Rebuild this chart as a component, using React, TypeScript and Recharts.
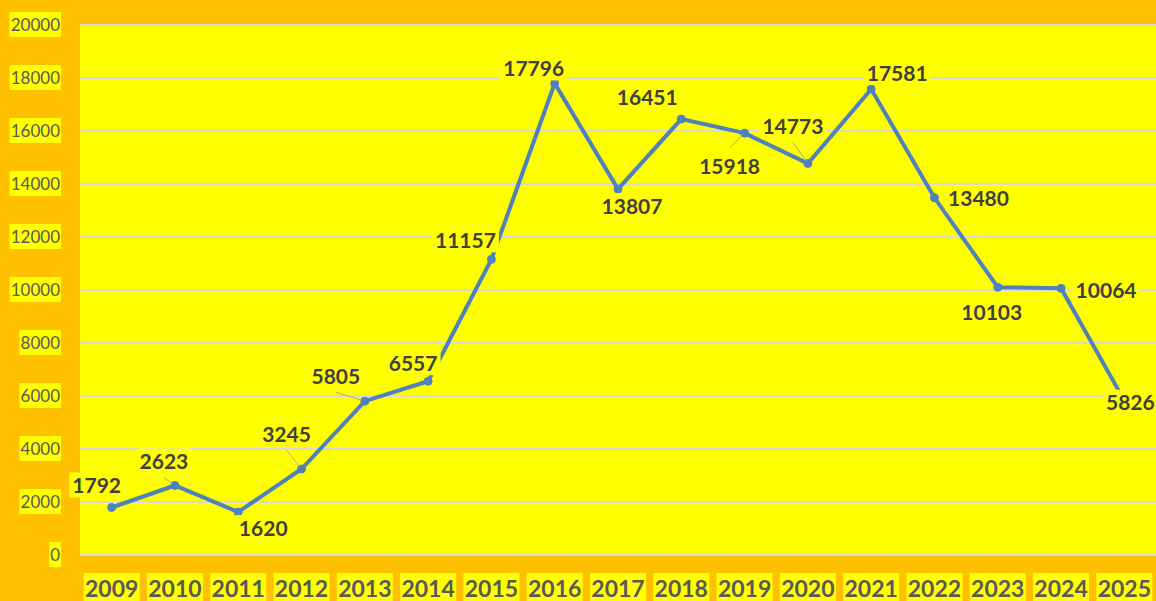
import { CartesianGrid, Line, LineChart, XAxis, YAxis } from "recharts";

const years = [
  "2009", "2010", "2011", "2012", "2013", "2014", "2015", "2016", "2017",
  "2018", "2019", "2020", "2021", "2022", "2023", "2024", "2025",
];

const totals = [
  1792, 2623, 1620, 3245, 5805, 6557, 11157, 17796, 13807, 16451, 15918,
  14773, 17581, 13480, 10103, 10064, 5826,
];

const yTicks = [0, 2000, 4000, 6000, 8000, 10000, 12000, 14000, 16000, 18000, 20000];

// where each data label sits relative to its point (manual placement, like in the sheet)
const labelOffsets: [number, number][] = [
  [-15, -22], [-11, -24], [25, 16], [-15, -35], [-29, -25], [-15, -18],
  [-26, -19], [-21, -15], [14, 17], [-34, -22], [-15, 33], [-15, -37],
  [26, -16], [44, 1], [-6, 25], [45, 2], [6, 2],
];

// labels that got pulled away from their point and show a leader line
const leaderLines = [1, 3, 4, 10, 11];

const FONT = "Lato, 'Open Sans', sans-serif";
const ORANGE = "#FFC000";
const YELLOW = "#FFFF00";

const data = years.map((year, i) => ({ year, total: totals[i] }));

const YTick = (props: any) => {
  const { x, y, payload } = props;
  const label = String(payload.value);
  const w = label.length * 9.9 + 2;
  return (
    <g>
      <rect x={x - w + 1} y={y - 13} width={w} height={25} fill={YELLOW} />
      <text x={x} y={y + 6} textAnchor="end" fontFamily={FONT} fontSize={17} fill="#595959">
        {label}
      </text>
    </g>
  );
};

const XTick = (props: any) => {
  const { x, y, payload } = props;
  return (
    <g>
      <rect x={x - 28} y={y + 18} width={56} height={30} fill={YELLOW} />
      <text
        x={x}
        y={y + 41.5}
        textAnchor="middle"
        fontFamily={FONT}
        fontSize={23}
        fontWeight="bold"
        fill="#595959"
      >
        {payload.value}
      </text>
    </g>
  );
};

const renderLabel = (props: any) => {
  const { x, y, value, index } = props;
  const [dx, dy] = labelOffsets[index];
  const label = String(value);
  const w = label.length * 12.2 + 6;
  const cx = x + dx;
  const cy = y + dy;
  let leader = null;
  if (leaderLines.includes(index)) {
    const sy = dy < 0 ? dy + 16 : dy - 18;
    const len = Math.hypot(dx, sy);
    const ex = (dx / len) * 3;
    const ey = (sy / len) * 3;
    leader = (
      <line x1={x + dx} y1={y + sy} x2={x + ex} y2={y + ey} stroke="#A6A6A6" strokeWidth={1} />
    );
  }
  return (
    <g key={`lbl-${index}`}>
      {leader}
      <rect x={cx - w / 2} y={cy - 13} width={w} height={25} fill={YELLOW} />
      <text
        x={cx}
        y={cy + 7.5}
        textAnchor="middle"
        fontFamily={FONT}
        fontSize={21}
        fontWeight="bold"
        fill="#404040"
      >
        {label}
      </text>
    </g>
  );
};

export default function App() {
  const band = 1076 / years.length / 2;
  return (
    <div style={{ position: "absolute", left: 0, top: 0, width: 1156, height: 601, background: ORANGE }}>
      <LineChart width={1156} height={601} data={data} margin={{ top: 25, right: 0, bottom: 0, left: 0 }}>
        <CartesianGrid vertical={false} stroke="#D9D9D9" strokeWidth={2} fill={YELLOW} fillOpacity={1} />
        <XAxis
          dataKey="year"
          height={46}
          axisLine={false}
          tickLine={false}
          tickSize={0}
          tickMargin={0}
          interval={0}
          padding={{ left: band, right: band }}
          tick={<XTick />}
        />
        <YAxis
          width={80}
          domain={[0, 20000]}
          ticks={yTicks}
          axisLine={false}
          tickLine={false}
          tickSize={0}
          tickMargin={20}
          interval={0}
          tick={<YTick />}
        />
        <Line
          type="linear"
          dataKey="total"
          stroke="#4F81BD"
          strokeWidth={4}
          dot={{ r: 4, fill: "#4F81BD", stroke: "#4F81BD", strokeWidth: 1 }}
          activeDot={false}
          label={renderLabel}
          isAnimationActive={false}
        />
      </LineChart>
    </div>
  );
}
